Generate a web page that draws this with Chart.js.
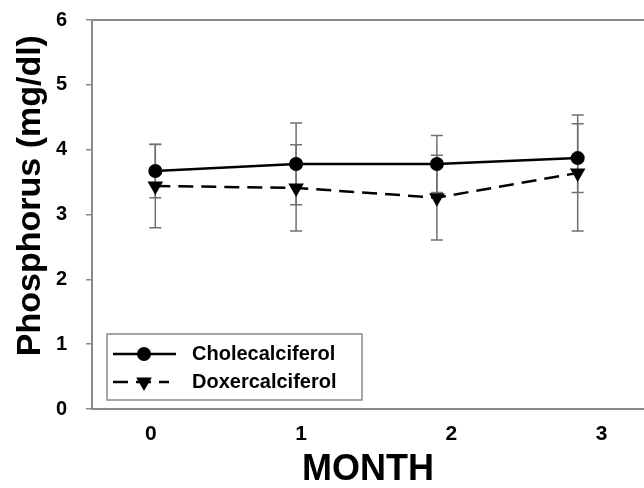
<!DOCTYPE html>
<html>
<head>
<meta charset="utf-8">
<script src="https://cdn.jsdelivr.net/npm/chart.js@4.4.1/dist/chart.umd.min.js"></script>
<style>
  html, body { margin: 0; padding: 0; background: #fff; overflow: hidden; }
</style>
</head>
<body>
<canvas id="chart_phosphorus" width="644" height="488"></canvas>
<script>
// months on the x axis
const months = [0, 1, 2, 3];

// Cholecalciferol group, mean and SD
const choleMean = [3.67, 3.78, 3.78, 3.87];
const choleSd = [0.41, 0.63, 0.44, 0.53];

// Doxercalciferol group, mean and SD
const doxerMean = [3.44, 3.41, 3.26, 3.64];
const doxerSd = [0.645, 0.665, 0.655, 0.895];

const seriesNames = ["Cholecalciferol", "Doxercalciferol"];

const axisGrey = "#8a8a8a";
const fontFam = "'Liberation Sans', Arial, sans-serif";

Chart.defaults.color = "#000";
Chart.defaults.font.family = fontFam;

// error bars, drawn under the lines and markers
const errorBars = {
    id: "errorBars",
    beforeDatasetsDraw(chart) {
        const ctx = chart.ctx;
        const x = chart.scales.x;
        const y = chart.scales.y;
        const groups = [[choleMean, choleSd], [doxerMean, doxerSd]];
        ctx.save();
        ctx.strokeStyle = "#707070";
        ctx.lineWidth = 1.5;
        groups.forEach(([mean, sd]) => {
            months.forEach((m, i) => {
                const px = x.getPixelForValue(m);
                const top = y.getPixelForValue(mean[i] + sd[i]);
                const bot = y.getPixelForValue(mean[i] - sd[i]);
                ctx.beginPath();
                ctx.moveTo(px, top);
                ctx.lineTo(px, bot);
                ctx.moveTo(px - 6, top);
                ctx.lineTo(px + 6, top);
                ctx.moveTo(px - 6, bot);
                ctx.lineTo(px + 6, bot);
                ctx.stroke();
            });
        });
        ctx.restore();
    }
};

// legend box in the lower left of the plot
const insideLegend = {
    id: "insideLegend",
    afterDraw(chart) {
        const ctx = chart.ctx;
        const area = chart.chartArea;
        const bx = area.left + 15;
        const by = area.bottom - 75;
        const bw = 255;
        const bh = 66;
        ctx.save();
        ctx.fillStyle = "#fff";
        ctx.fillRect(bx, by, bw, bh);
        ctx.strokeStyle = axisGrey;
        ctx.lineWidth = 1.5;
        ctx.strokeRect(bx, by, bw, bh);

        const rows = [by + 20, by + 48];
        chart.data.datasets.forEach((ds, i) => {
            const ry = rows[i];
            ctx.strokeStyle = "#000";
            ctx.lineWidth = 2.5;
            ctx.setLineDash(ds.borderDash || []);
            ctx.beginPath();
            ctx.moveTo(bx + 6, ry);
            ctx.lineTo(bx + (i === 0 ? 69 : 62), ry);
            ctx.stroke();
            ctx.setLineDash([]);
            ctx.fillStyle = "#000";
            Chart.helpers.drawPoint(ctx, {
                pointStyle: ds.pointStyle,
                rotation: ds.pointRotation || 0,
                radius: ds.pointRadius,
                borderWidth: 0
            }, bx + 37, ry);
            ctx.font = "bold 20px " + fontFam;
            ctx.textBaseline = "middle";
            ctx.textAlign = "left";
            ctx.fillText(ds.label, bx + 85, ry);
        });
        ctx.restore();
    }
};

new Chart(document.getElementById("chart_phosphorus"), {
    type: "line",
    data: {
        datasets: [{
            label: seriesNames[0],
            data: months.map((m, i) => ({x: m, y: choleMean[i]})),
            borderColor: "#000",
            backgroundColor: "#000",
            borderWidth: 2.5,
            pointStyle: "circle",
            pointRadius: 7,
            pointBorderWidth: 0,
            pointBackgroundColor: "#000",
            tension: 0
        }, {
            label: seriesNames[1],
            data: months.map((m, i) => ({x: m, y: doxerMean[i]})),
            borderColor: "#000",
            backgroundColor: "#000",
            borderWidth: 2.5,
            borderDash: [15, 8],
            pointStyle: "triangle",
            pointRotation: 180,
            pointRadius: 9,
            pointBorderWidth: 0,
            pointBackgroundColor: "#000",
            tension: 0
        }]
    },
    options: {
        responsive: false,
        animation: false,
        layout: { padding: 0, autoPadding: false },
        plugins: {
            legend: { display: false },
            tooltip: { enabled: false }
        },
        scales: {
            // data axis (hidden)
            x: {
                type: "linear",
                display: false,
                min: -0.4496,
                max: 3.471
            },
            // visible month axis with labels
            xt: {
                type: "linear",
                position: "bottom",
                min: -0.391,
                max: 3.282,
                afterBuildTicks: (scale) => { scale.ticks = months.map(v => ({value: v})); },
                afterFit: (scale) => { scale.height = 79; },
                grid: { drawOnChartArea: false, drawTicks: false },
                border: { display: true, color: axisGrey, width: 2 },
                ticks: {
                    padding: 15,
                    font: { size: 21, weight: "bold", lineHeight: 1 },
                    maxRotation: 0
                },
                title: {
                    display: true,
                    text: "MONTH",
                    font: { size: 36, weight: "bold", lineHeight: 1 },
                    padding: { top: 0, bottom: 0 }
                }
            },
            // top frame line
            xtop: {
                type: "linear",
                position: "top",
                min: 0,
                max: 1,
                afterFit: (scale) => { scale.height = 20; },
                grid: { drawOnChartArea: false, drawTicks: false },
                border: { display: true, color: axisGrey, width: 2 },
                ticks: { display: false }
            },
            y: {
                type: "linear",
                position: "left",
                min: 0,
                max: 6,
                afterFit: (scale) => {
                    scale.width = 92;
                    scale.paddingTop = 12;
                    scale.paddingBottom = 12;
                },
                grid: {
                    drawOnChartArea: false,
                    drawTicks: true,
                    tickLength: 6,
                    color: axisGrey,
                    lineWidth: 1.5
                },
                border: { display: true, color: axisGrey, width: 2 },
                ticks: {
                    stepSize: 1,
                    padding: 19,
                    font: { size: 20, weight: "bold" }
                },
                title: {
                    display: true,
                    text: "    Phosphorus (mg/dl)",
                    font: { size: 34, weight: "bold", lineHeight: 1.2 },
                    padding: { top: 10, bottom: 0 }
                }
            }
        }
    },
    plugins: [errorBars, insideLegend]
});
</script>
</body>
</html>
